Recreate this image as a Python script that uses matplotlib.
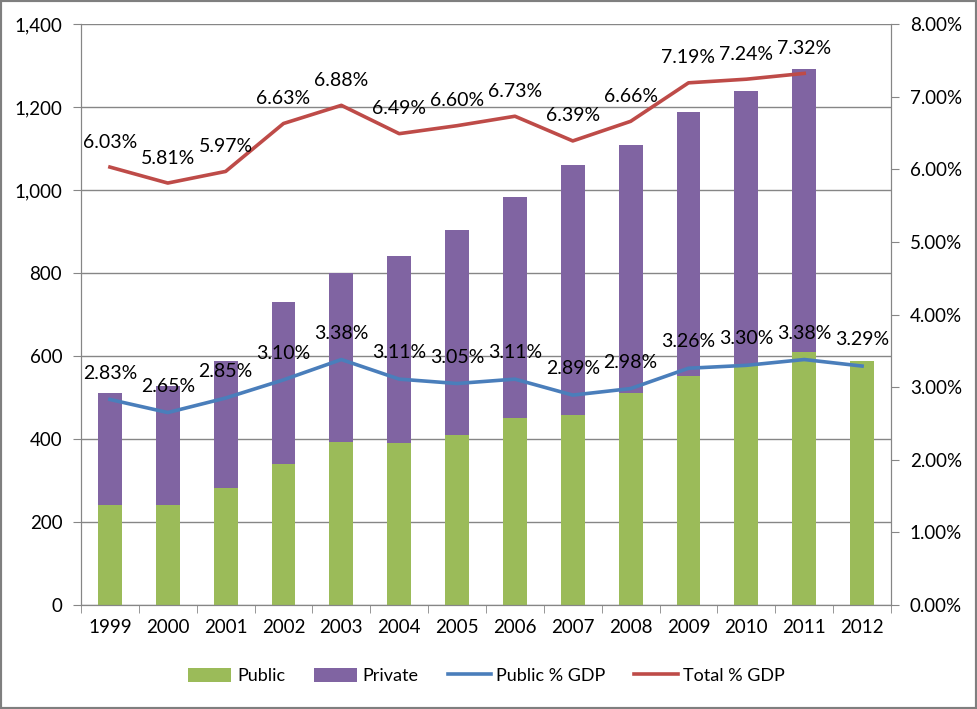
import matplotlib
matplotlib.use("Agg")
import matplotlib.pyplot as plt
from matplotlib.ticker import FuncFormatter, MultipleLocator
from matplotlib.patches import Rectangle
import numpy as np

years = ["1999", "2000", "2001", "2002", "2003", "2004", "2005", "2006",
         "2007", "2008", "2009", "2010", "2011", "2012"]
public = [241, 241, 281, 339, 392, 390, 409, 450, 457, 512, 551, 580, 609, 587]
total = [510, 527, 589, 731, 799, 840, 904, 984, 1061, 1109, 1188, 1239, 1292, None]
public_pct = [2.83, 2.65, 2.85, 3.10, 3.38, 3.11, 3.05, 3.11, 2.89, 2.98, 3.26, 3.30, 3.38, 3.29]
total_pct = [6.03, 5.81, 5.97, 6.63, 6.88, 6.49, 6.60, 6.73, 6.39, 6.66, 7.19, 7.24, 7.32]

plt.rcParams['font.family'] = ['Lato', 'DejaVu Sans']

GREEN = "#9BBB59"
PURPLE = "#8064A2"
BLUE = "#4A7EBB"
RED = "#BE4B48"
GRID = "#868686"

fig = plt.figure(figsize=(9.77, 7.09), dpi=100)
ax = fig.add_axes([81/977, 1-605/709, (891-81)/977, (605-24)/709])
ax2 = ax.twinx()

x = np.arange(len(years))
private = [(t - p) if t is not None else 0 for t, p in zip(total, public)]
w = 0.41
ax.bar(x, public, width=w, color=GREEN, label="Public", zorder=2)
ax.bar(x, private, width=w, bottom=public, color=PURPLE, label="Private", zorder=2)

ax.set_ylim(0, 1400)
ax.set_xlim(-0.5, len(years) - 0.5)
ax.yaxis.set_major_locator(MultipleLocator(200))
ax.yaxis.set_major_formatter(FuncFormatter(lambda v, p: f"{int(v):,}"))
ax.grid(axis='y', color=GRID, linewidth=1, zorder=0)
ax.set_axisbelow(True)

ax.set_xticks(x)
ax.set_xticklabels(years)
ax.set_xticks(np.arange(-0.5, len(years), 1), minor=True)
ax.tick_params(axis='x', which='major', length=0, pad=10, labelsize=13.5)
ax.tick_params(axis='x', which='minor', length=5.5, color=GRID, direction='out')
ax.tick_params(axis='y', length=5.5, color=GRID, labelsize=13.5, pad=8)

for s in ['top']:
    ax.spines[s].set_visible(False)
    ax2.spines[s].set_visible(False)
for s in ['left', 'bottom', 'right']:
    ax.spines[s].set_color(GRID)
    ax2.spines[s].set_color(GRID)

lp, = ax2.plot(x, public_pct, color=BLUE, linewidth=2.6, label="Public % GDP", zorder=3)
lt, = ax2.plot(x[:len(total_pct)], total_pct, color=RED, linewidth=2.6, label="Total % GDP", zorder=3)
ax2.set_ylim(0, 8)
ax2.yaxis.set_major_locator(MultipleLocator(1))
ax2.yaxis.set_major_formatter(FuncFormatter(lambda v, p: f"{v:.2f}%"))
ax2.tick_params(axis='y', length=5.5, color=GRID, labelsize=13.5, pad=8)

for xi, v in zip(x, public_pct):
    ax2.annotate(f"{v:.2f}%", (xi, v), xytext=(0, 19), textcoords='offset points',
                 ha='center', va='center', fontsize=14, zorder=5)
for xi, v in zip(x, total_pct):
    ax2.annotate(f"{v:.2f}%", (xi, v), xytext=(0, 18), textcoords='offset points',
                 ha='center', va='center', fontsize=14, zorder=5)

h1, l1 = ax.get_legend_handles_labels()
fig.legend(h1 + [lp, lt], l1 + ["Public % GDP", "Total % GDP"],
           loc='center', bbox_to_anchor=(0.498, 1 - 676/709), ncol=4, frameon=False,
           fontsize=13, handlelength=2.4, handleheight=0.8, columnspacing=1.6,
           handletextpad=0.3)

fig.patches.append(Rectangle((0, 0), 1, 1, transform=fig.transFigure, fill=False,
                             edgecolor="#7F7F7F", linewidth=3))

fig.savefig("out.png", dpi=100)
